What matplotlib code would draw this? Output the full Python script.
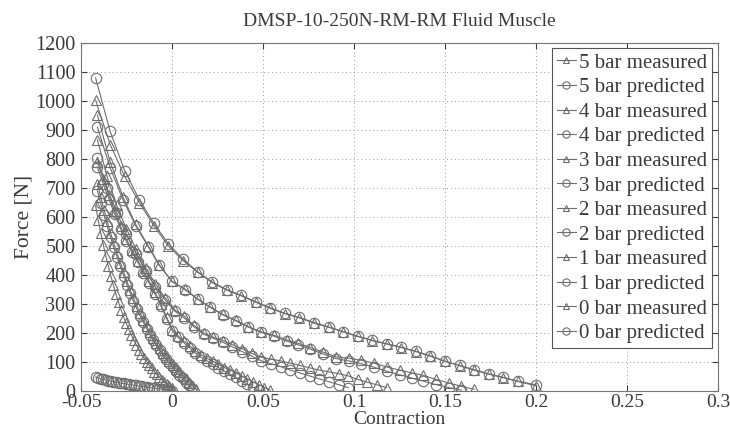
import matplotlib
matplotlib.use("Agg")
import matplotlib.pyplot as plt

# contraction positions (shared by measured and predicted of each pressure)
x5 = [-0.042, -0.034, -0.026, -0.018, -0.010, -0.002, 0.006, 0.014, 0.022, 0.030, 0.038,
      0.046, 0.054, 0.062, 0.070, 0.078, 0.086, 0.094, 0.102, 0.110, 0.118, 0.126,
      0.134, 0.142, 0.150, 0.158, 0.166, 0.174, 0.182, 0.190, 0.200]
x4 = [-0.041, -0.034, -0.027, -0.020, -0.013, -0.007, 0.000, 0.007, 0.014, 0.021, 0.028,
      0.035, 0.042, 0.049, 0.056, 0.063, 0.069, 0.076, 0.083, 0.090, 0.097, 0.104,
      0.111, 0.118, 0.125, 0.132, 0.138, 0.145, 0.152, 0.159, 0.166]
x3 = [-0.041, -0.0357, -0.0304, -0.0251, -0.0198, -0.0145, -0.0092, -0.0039, 0.0014,
      0.0067, 0.012, 0.0173, 0.0226, 0.0279, 0.0332, 0.0385, 0.0438, 0.0491, 0.0544,
      0.0597, 0.065, 0.0703, 0.0756, 0.0809, 0.0862, 0.0915, 0.0968, 0.1021, 0.1074,
      0.1127, 0.118]
x2 = [-0.041, -0.0378, -0.0347, -0.0315, -0.0283, -0.0252, -0.022, -0.0188, -0.0157,
      -0.0125, -0.0093, -0.0062, -0.003, 0.0002, 0.0033, 0.0065, 0.0097, 0.0128, 0.016,
      0.0192, 0.0223, 0.0255, 0.0287, 0.0318, 0.035, 0.0382, 0.0413, 0.0445, 0.0477,
      0.0508, 0.054]
x1 = [-0.041, -0.0392, -0.0374, -0.0356, -0.0338, -0.032, -0.0302, -0.0284, -0.0266,
      -0.0248, -0.023, -0.0212, -0.0194, -0.0176, -0.0158, -0.014, -0.0122, -0.0104,
      -0.0086, -0.0068, -0.005, -0.0032, -0.0014, 0.0004, 0.0022, 0.004, 0.0058, 0.0076,
      0.0094, 0.0112, 0.013]
x0 = [-0.042, -0.0406, -0.0392, -0.0378, -0.0364, -0.035, -0.0336, -0.0322, -0.0308,
      -0.0294, -0.028, -0.0266, -0.0252, -0.0238, -0.0224, -0.021, -0.0196, -0.0182,
      -0.0168, -0.0154, -0.014, -0.0126, -0.0112, -0.0098, -0.0084, -0.007, -0.0056,
      -0.0042, -0.0028, -0.0014, 0.0]

# forces [N]
m5 = [1003, 850, 740, 650, 570, 500, 450, 410, 374, 348, 328, 306, 285, 267, 252, 234,
      220, 204, 188, 174, 162, 150, 136, 120, 102, 87, 72, 58, 46, 33, 18]
p5 = [1080, 895, 760, 660, 578, 508, 455, 412, 376, 350, 330, 308, 287, 268, 254, 236,
      221, 205, 189, 175, 163, 151, 137, 121, 103, 88, 73, 59, 47, 34, 21]
m4 = [952, 790, 670, 575, 500, 435, 378, 352, 318, 290, 264, 244, 222, 204, 192, 176,
      165, 150, 134, 118, 113, 106, 96, 83, 72, 62, 54, 40, 28, 16, 6]
p4 = [910, 770, 660, 570, 497, 433, 378, 350, 316, 288, 262, 242, 220, 202, 189, 172,
      160, 144, 128, 112, 104, 94, 82, 68, 56, 44, 34, 22, 12, 3]
m3 = [866, 740, 640, 560, 490, 425, 370, 322, 280, 258, 226, 200, 186, 174, 160, 146,
      130, 116, 110, 104, 96, 88, 80, 72, 66, 60, 52, 40, 30, 21, 12]
p3 = [803, 700, 615, 540, 474, 414, 360, 315, 276, 252, 222, 196, 182, 168, 152, 136,
      120, 104, 94, 84, 72, 62, 52, 42, 32, 22, 12]
m2 = [790, 730, 675, 620, 568, 525, 487, 450, 415, 378, 340, 300, 255, 212, 190, 172,
      156, 138, 124, 113, 103, 92, 81, 72, 63, 52, 42, 32, 22, 12, 3]
p2 = [772, 715, 662, 610, 560, 518, 480, 444, 408, 372, 334, 294, 250, 208, 185, 166,
      149, 131, 116, 104, 93, 81, 69, 58, 47, 35, 24, 13, 3]
m1 = [715, 670, 625, 585, 545, 510, 475, 442, 410, 378, 348, 320, 294, 270, 246, 224,
      203, 183, 165, 148, 132, 117, 103, 90, 77, 64, 52, 40, 28, 17, 6]
p1 = [690, 648, 606, 568, 530, 495, 462, 430, 398, 367, 338, 310, 284, 260, 237, 215,
      194, 175, 157, 140, 124, 109, 95, 82, 69, 56, 44, 32, 20, 8]
m0 = [640, 590, 545, 505, 466, 430, 396, 364, 334, 306, 280, 256, 234, 213, 194, 176,
      159, 143, 128, 114, 101, 89, 78, 67, 57, 48, 39, 31, 23, 16, 9]
p0 = [48, 45, 42, 40, 38, 36, 34, 32, 30, 29, 27, 26, 24, 23, 21, 20, 19, 17, 16, 15,
      13, 12, 11, 10, 8, 7, 6, 5, 3, 2, 1]

series = [
    (x5, m5, p5, "5"), (x4, m4, p4, "4"), (x3, m3, p3, "3"),
    (x2, m2, p2, "2"), (x1, m1, p1, "1"), (x0, m0, p0, "0"),
]

plt.rcParams['font.family'] = ['Liberation Serif', 'DejaVu Serif']
ink = '#3a3a3a'
gray = '#6e6e6e'

fig = plt.figure(figsize=(7.3, 4.33), dpi=100)
ax = fig.add_axes([0.111, 0.097, 0.8726, 0.8036])

for x, m, p, bar in series:
    ax.plot(x, m, color=gray, lw=0.8, marker='^', ms=7, mfc='none', mec=gray, mew=0.8,
            label=f"{bar} bar measured")
    ax.plot(x[:len(p)], p, color=gray, lw=0.8, marker='o', ms=7.5, mfc='none', mec=gray,
            mew=0.8, label=f"{bar} bar predicted")

ax.set_xlim(-0.05, 0.3)
ax.set_ylim(0, 1200)
ax.set_xticks([-0.05, 0, 0.05, 0.1, 0.15, 0.2, 0.25, 0.3])
ax.set_xticklabels(['-0.05', '0', '0.05', '0.1', '0.15', '0.2', '0.25', '0.3'])
ax.set_yticks(range(0, 1201, 100))
ax.grid(True, ls=(0, (1, 3)), color='#9a9a9a', lw=0.7)
ax.tick_params(labelsize=14.5, colors=ink, direction='in', length=4, top=True, right=True)
ax.tick_params(axis='x', labelsize=14, pad=2)
ax.tick_params(axis='y', pad=4)
for s in ax.spines.values():
    s.set_color('#777777')

ax.set_xlabel("Contraction", fontsize=14, color=ink, labelpad=0)
ax.set_ylabel("Force [N]", fontsize=15.5, color=ink, labelpad=1)
ax.set_title("DMSP-10-250N-RM-RM Fluid Muscle", fontsize=14, color=ink, pad=12)

leg = ax.legend(loc='upper right', bbox_to_anchor=(0.991, 0.986), fontsize=15,
                labelspacing=0.24, handlelength=0.9, handletextpad=0.15,
                borderpad=0.25, borderaxespad=0, frameon=True, fancybox=False,
                framealpha=1, markerscale=0.7)
leg.get_frame().set_edgecolor('#555555')
leg.get_frame().set_linewidth(0.8)
for t in leg.get_texts():
    t.set_color(ink)

fig.savefig("out.png", dpi=100)
